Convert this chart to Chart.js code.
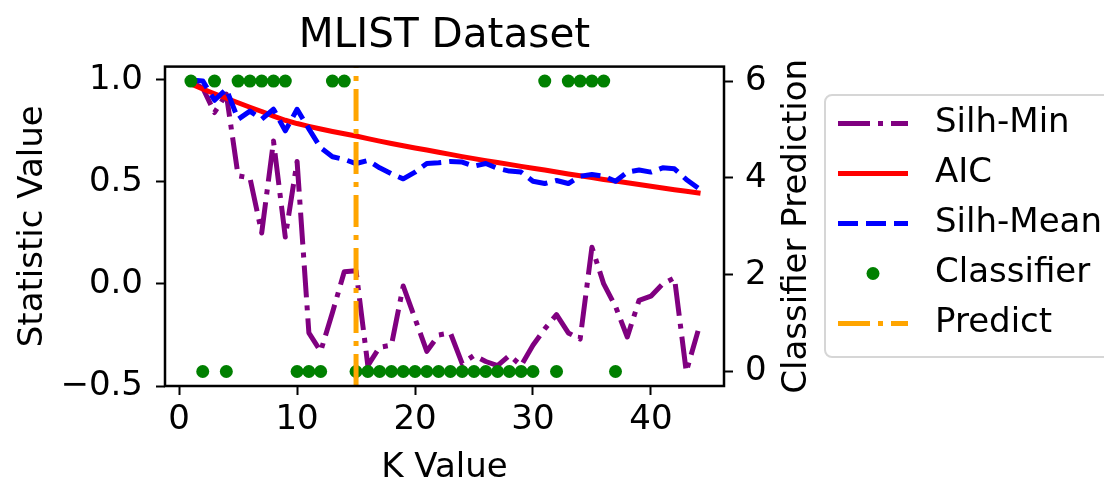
<!DOCTYPE html>
<html>
<head>
<meta charset="utf-8">
<script src="https://cdn.jsdelivr.net/npm/chart.js@4/dist/chart.umd.min.js"></script>
<style>
  html, body { margin: 0; padding: 0; background: #fff; }
  #wrap { width: 1104px; height: 485px; }
</style>
</head>
<body>
<div id="wrap"><canvas id="chart" width="1104" height="485"></canvas></div>
<script>
// K values and the statistics computed for each of them
const kValues = [1, 2, 3, 4, 5, 6, 7, 8, 9, 10, 11, 12, 13, 14, 15, 16, 17, 18, 19, 20, 21, 22,
  23, 24, 25, 26, 27, 28, 29, 30, 31, 32, 33, 34, 35, 36, 37, 38, 39, 40, 41, 42, 43, 44];
const silhMin = [0.99, 0.96, 0.84, 0.93, 0.53, 0.52, 0.25, 0.70, 0.23, 0.60, -0.24, -0.33, -0.14, 0.06,
  0.065, -0.40, -0.31, -0.30, -0.01, -0.17, -0.33, -0.25, -0.24, -0.39, -0.35, -0.38, -0.40, -0.35,
  -0.40, -0.30, -0.22, -0.15, -0.24, -0.27, 0.18, 0.0, -0.11, -0.26, -0.08, -0.06, 0.0, 0.03, -0.43, -0.23];
const aic = [0.980, 0.955, 0.932, 0.910, 0.888, 0.866, 0.845, 0.822, 0.802, 0.786, 0.772, 0.759, 0.747,
  0.736, 0.725, 0.712, 0.700, 0.688, 0.677, 0.666, 0.656, 0.645, 0.635, 0.624, 0.614, 0.604, 0.595,
  0.586, 0.576, 0.567, 0.558, 0.549, 0.539, 0.530, 0.521, 0.512, 0.504, 0.496, 0.487, 0.479, 0.470,
  0.462, 0.454, 0.446];
const silhMean = [1.0, 0.995, 0.90, 0.955, 0.807, 0.847, 0.807, 0.856, 0.75, 0.856, 0.76, 0.667, 0.623,
  0.61, 0.59, 0.605, 0.569, 0.54, 0.515, 0.548, 0.59, 0.594, 0.60, 0.597, 0.577, 0.59, 0.566, 0.553,
  0.548, 0.503, 0.492, 0.507, 0.492, 0.528, 0.536, 0.528, 0.503, 0.548, 0.558, 0.548, 0.569, 0.564,
  0.512, 0.47];
// classifier prediction (right axis), available for k = 1..37
const classifier = [6, 0, 6, 0, 6, 6, 6, 6, 6, 0, 0, 0, 6, 6, 0, 0, 0, 0, 0, 0, 0, 0, 0, 0, 0, 0, 0, 0,
  0, 0, 6, 0, 6, 6, 6, 6, 0];
const predictK = 15;

const xTicks = [0, 10, 20, 30, 40];
const yTicks = [-0.5, 0, 0.5, 1.0];
const y2Ticks = [0, 2, 4, 6];

const FONT = "'DejaVu Sans', sans-serif";
const yMin = -0.5, yMax = 1.065;

const pts = ys => ys.map((y, i) => ({ x: kValues[i], y: y }));
const dashDot = [32, 8, 5, 8];

Chart.defaults.font.family = FONT;
Chart.defaults.color = "#000";

const datasets = [
  {
    label: "Silh-Min", data: pts(silhMin), yAxisID: "y", order: 5,
    borderColor: "#800080", borderWidth: 5, borderDash: dashDot,
    borderCapStyle: "butt", borderJoinStyle: "round", pointRadius: 0, fill: false
  },
  {
    label: "AIC", data: pts(aic), yAxisID: "y", order: 4,
    borderColor: "#ff0000", borderWidth: 5,
    borderCapStyle: "square", borderJoinStyle: "round", pointRadius: 0, fill: false
  },
  {
    label: "Silh-Mean", data: pts(silhMean), yAxisID: "y", order: 3,
    borderColor: "#0000ff", borderWidth: 5, borderDash: [20, 8],
    borderCapStyle: "butt", borderJoinStyle: "round", pointRadius: 0, fill: false
  },
  {
    label: "Classifier", data: pts(classifier), yAxisID: "y2", order: 2,
    showLine: false, pointRadius: 6.5, pointBorderWidth: 0,
    pointBackgroundColor: "#008000", borderColor: "#008000"
  },
  {
    label: "Predict", data: [{ x: predictK, y: yMin }, { x: predictK, y: yMax }], yAxisID: "y", order: 1,
    borderColor: "#ffa500", borderWidth: 5, borderDash: dashDot,
    borderCapStyle: "butt", pointRadius: 0, fill: false
  }
];

function fixedTicks(values) {
  return function (scale) { scale.ticks = values.map(v => ({ value: v })); };
}

const tickGrid = {
  display: true, drawOnChartArea: false, drawTicks: true,
  tickLength: 9, tickWidth: 2, tickColor: "#000", color: "#000"
};

// frame around the plot, right axis title and the legend box
const decorations = {
  id: "decorations",
  afterDatasetsDraw(chart) {
    const a = chart.chartArea, ctx = chart.ctx;
    ctx.save();
    ctx.strokeStyle = "#000";
    ctx.lineWidth = 2.5;
    ctx.strokeRect(a.left, a.top, a.right - a.left, a.bottom - a.top);
    ctx.restore();
  },
  afterDraw(chart) {
    const a = chart.chartArea, ctx = chart.ctx;
    ctx.save();
    ctx.fillStyle = "#000";
    ctx.font = "34px " + FONT;
    ctx.textAlign = "center";
    ctx.textBaseline = "middle";
    ctx.translate(797, (a.top + a.bottom) / 2);
    ctx.rotate(-Math.PI / 2);
    ctx.fillText("Classifier Prediction", 0, 0);
    ctx.restore();

    // legend
    const bx = 825, by = 95, bw = 320, bh = 262, r = 7;
    ctx.save();
    ctx.beginPath();
    ctx.moveTo(bx + r, by);
    ctx.lineTo(bx + bw - r, by);
    ctx.arcTo(bx + bw, by, bx + bw, by + r, r);
    ctx.lineTo(bx + bw, by + bh - r);
    ctx.arcTo(bx + bw, by + bh, bx + bw - r, by + bh, r);
    ctx.lineTo(bx + r, by + bh);
    ctx.arcTo(bx, by + bh, bx, by + bh - r, r);
    ctx.lineTo(bx, by + r);
    ctx.arcTo(bx, by, bx + r, by, r);
    ctx.closePath();
    ctx.fillStyle = "rgba(255,255,255,0.8)";
    ctx.fill();
    ctx.strokeStyle = "#d6d6d6";
    ctx.lineWidth = 2;
    ctx.stroke();

    const x0 = 838, x1 = 908, tx = 935;
    chart.data.datasets.forEach((ds, i) => {
      const y = 123.5 + i * 50;
      if (ds.showLine === false) {
        ctx.beginPath();
        ctx.arc((x0 + x1) / 2, y, ds.pointRadius, 0, Math.PI * 2);
        ctx.fillStyle = ds.pointBackgroundColor;
        ctx.fill();
      } else {
        ctx.beginPath();
        ctx.setLineDash(ds.borderDash || []);
        ctx.lineCap = "butt";
        ctx.strokeStyle = ds.borderColor;
        ctx.lineWidth = ds.borderWidth;
        ctx.moveTo(x0, y);
        ctx.lineTo(x1, y);
        ctx.stroke();
        ctx.setLineDash([]);
      }
      ctx.fillStyle = "#000";
      ctx.font = "34px " + FONT;
      ctx.textAlign = "left";
      ctx.textBaseline = "middle";
      ctx.fillText(ds.label, tx, y);
    });
    ctx.restore();
  }
};

new Chart(document.getElementById("chart").getContext("2d"), {
  type: "line",
  data: { datasets: datasets },
  plugins: [decorations],
  options: {
    responsive: false,
    devicePixelRatio: 1,
    animation: false,
    events: [],
    layout: { padding: { left: 0, right: 280, top: 0, bottom: 0 } },
    plugins: {
      legend: { display: false },
      tooltip: { enabled: false },
      title: {
        display: true, text: "MLIST Dataset", fullSize: false, color: "#000",
        font: { size: 40.5, weight: "normal" }, padding: { top: 12, bottom: 6 }
      }
    },
    scales: {
      x: {
        type: "linear", position: "bottom", min: -1.2, max: 46.2,
        afterBuildTicks: fixedTicks(xTicks),
        afterFit(s) { s.height = 99; },
        grid: tickGrid, border: { display: false },
        ticks: { font: { size: 34 }, color: "#000", padding: 5, maxRotation: 0 },
        title: { display: true, text: "K Value", font: { size: 34, lineHeight: 1.0 }, color: "#000", padding: { top: 0, bottom: 0 } }
      },
      y: {
        type: "linear", position: "left", min: yMin, max: yMax,
        afterBuildTicks: fixedTicks(yTicks),
        afterFit(s) { s.width = 165; },
        grid: tickGrid, border: { display: false },
        ticks: {
          font: { size: 34 }, color: "#000", padding: 13,
          callback: v => v.toFixed(1).replace("-", "\u2212")
        },
        title: { display: true, text: "Statistic Value", font: { size: 34, lineHeight: 1.1 }, color: "#000", padding: { top: 14, bottom: 0 } }
      },
      y2: {
        type: "linear", position: "right", min: -0.3, max: 6.3,
        afterBuildTicks: fixedTicks(y2Ticks),
        afterFit(s) { s.width = 100; },
        grid: tickGrid, border: { display: false },
        ticks: { font: { size: 34 }, color: "#000", padding: 12, callback: v => String(v) }
      }
    }
  }
});
</script>
</body>
</html>
